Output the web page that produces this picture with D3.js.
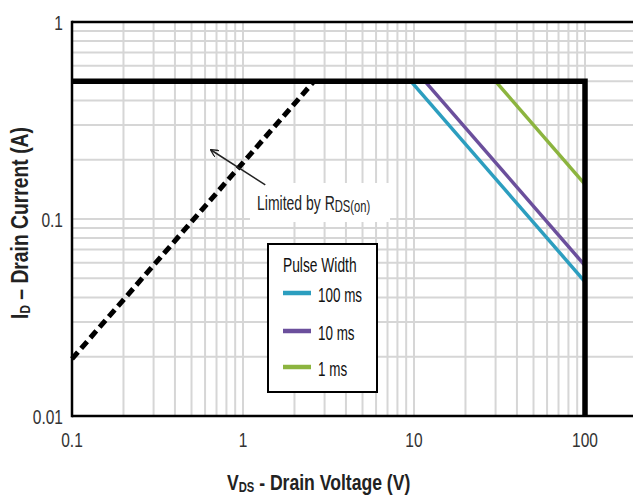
<!DOCTYPE html>
<html><head><meta charset="utf-8">
<script src="https://cdn.jsdelivr.net/npm/d3@7"></script>
<style>
html,body{margin:0;padding:0;background:#fff;overflow:hidden}
text{font-family:"Liberation Sans",Arial,sans-serif}
</style></head>
<body><svg id="c" width="633" height="495"></svg>
<script>
// ---- data ----
const xTicks = [0.1, 1, 10, 100];
const xTickLabels = ["0.1", "1", "10", "100"];
const yTicks = [0.01, 0.1, 1];
const yTickLabels = ["0.01", "0.1", "1"];
const seriesNames = ["100 ms", "10 ms", "1 ms"];
const seriesColors = ["#2c9ebf", "#6b4f9c", "#8cb43f"];
const pulse100ms = [[9.6, 0.5], [100, 0.048]];
const pulse10ms = [[11.6, 0.5], [100, 0.058]];
const pulse1ms = [[30, 0.5], [100, 0.15]];
const rdsLimit = [[0.1, 0.0195], [2.6, 0.5]];
const maxLimit = [[0.1, 0.5], [100, 0.5], [100, 0.01]];
const arrowPts = [[1.35, 0.149], [0.65, 0.224]];

const svg = d3.select("#c");
const x = d3.scaleLog().domain([0.1, 100]).range([72, 585]);
const y = d3.scaleLog().domain([0.01, 1]).range([416, 22]);
const plotRight = 640;

function ctext(parent, px, py, size, sx, anchor) {
  return parent.append("text")
    .attr("transform", `translate(${px},${py}) scale(${sx},1)`)
    .attr("text-anchor", anchor || "start")
    .attr("font-size", size);
}

// grid
const minor = [];
[0.1, 1, 10].forEach(d => { for (let k = 1; k <= 9; k++) minor.push(d * k); });
minor.push(100);
const yminor = [];
[0.01, 0.1].forEach(d => { for (let k = 1; k <= 9; k++) yminor.push(d * k); });
yminor.push(1);

const g = svg.append("g");
g.selectAll("line.vg").data(minor).join("line")
  .attr("x1", d => x(d)).attr("x2", d => x(d))
  .attr("y1", y(1)).attr("y2", y(0.01))
  .attr("stroke", "#d6d6d6").attr("stroke-width", 2);
g.selectAll("line.hg").data(yminor).join("line")
  .attr("x1", x(0.1)).attr("x2", plotRight)
  .attr("y1", d => y(d)).attr("y2", d => y(d))
  .attr("stroke", "#d6d6d6").attr("stroke-width", 2);

// frame
svg.append("line").attr("x1", x(0.1)).attr("x2", plotRight).attr("y1", y(1)).attr("y2", y(1)).attr("stroke", "#000").attr("stroke-width", 2.5);
svg.append("line").attr("x1", x(0.1)).attr("x2", plotRight).attr("y1", y(0.01)).attr("y2", y(0.01)).attr("stroke", "#000").attr("stroke-width", 2.5);
svg.append("line").attr("x1", x(0.1)).attr("x2", x(0.1)).attr("y1", y(1) - 1.2).attr("y2", y(0.01) + 1.2).attr("stroke", "#000").attr("stroke-width", 2.5);

const line = d3.line().x(d => x(d[0])).y(d => y(d[1]));

// annotation box (white bg)
svg.append("rect").attr("x", 250).attr("y", 183).attr("width", 140).attr("height", 39).attr("fill", "#fff");

// series
[pulse100ms, pulse10ms, pulse1ms].forEach((s, i) => {
  svg.append("path").attr("d", line(s)).attr("fill", "none")
    .attr("stroke", seriesColors[i]).attr("stroke-width", 3.5);
});

// Rds dashed
svg.append("path").attr("d", line(rdsLimit)).attr("fill", "none")
  .attr("stroke", "#000").attr("stroke-width", 5).attr("stroke-dasharray", "9,5");

// max limit
svg.append("path").attr("d", line(maxLimit)).attr("fill", "none")
  .attr("stroke", "#000").attr("stroke-width", 5.5).attr("stroke-linejoin", "miter");

// arrow
svg.append("defs").append("marker").attr("id", "ah").attr("viewBox", "0 0 10 10")
  .attr("refX", 9).attr("refY", 5).attr("markerWidth", 8).attr("markerHeight", 8)
  .attr("markerUnits", "userSpaceOnUse").attr("orient", "auto")
  .append("path").attr("d", "M0,0 L10,5 L0,10").attr("fill", "none").attr("stroke", "#222").attr("stroke-width", 1.6);
svg.append("line")
  .attr("x1", x(arrowPts[0][0])).attr("y1", y(arrowPts[0][1]))
  .attr("x2", x(arrowPts[1][0])).attr("y2", y(arrowPts[1][1]))
  .attr("stroke", "#222").attr("stroke-width", 1.5).attr("marker-end", "url(#ah)");
const ann = ctext(svg, 257, 210, 20, 0.7).attr("fill", "#222");
ann.append("tspan").text("Limited by R");
ann.append("tspan").attr("font-size", 16).attr("dy", 2).text("DS(on)");

// legend
const lg = svg.append("g");
lg.append("rect").attr("x", 268).attr("y", 244).attr("width", 109).attr("height", 148)
  .attr("fill", "#fff").attr("stroke", "#000").attr("stroke-width", 2);
ctext(lg, 283, 272, 20, 0.69).attr("fill", "#111").text("Pulse Width");
const legY = [293, 331, 367];
seriesNames.forEach((n, i) => {
  const yy = legY[i];
  lg.append("line").attr("x1", 283).attr("x2", 311).attr("y1", yy).attr("y2", yy)
    .attr("stroke", seriesColors[i]).attr("stroke-width", 4.5);
  ctext(lg, 318, yy + 9, 21, 0.64).attr("fill", "#111").text(n);
});

// tick labels
xTicks.forEach((d, i) => {
  ctext(svg, x(d), 447, 21, 0.74, "middle").attr("fill", "#333").text(xTickLabels[i]);
});
yTicks.forEach((d, i) => {
  ctext(svg, 63, y(d) + 7.5, 21, 0.74, "end").attr("fill", "#333").text(yTickLabels[i]);
});

// axis titles
const xt = ctext(svg, 227, 490, 22, 0.8).attr("font-weight", "bold").attr("fill", "#222");
xt.append("tspan").text("V");
xt.append("tspan").attr("font-size", 14).attr("dy", 2).text("DS");
xt.append("tspan").attr("dy", -2).text("  - Drain Voltage (V)");
const yt = svg.append("text").attr("transform", "translate(28,223) rotate(-90) scale(0.84,1)")
  .attr("text-anchor", "middle").attr("font-size", 23).attr("font-weight", "bold").attr("fill", "#222");
yt.append("tspan").text("I");
yt.append("tspan").attr("font-size", 14).attr("dy", 2).text("D");
yt.append("tspan").attr("dy", -2).text(" – Drain Current (A)");
</script></body></html>
